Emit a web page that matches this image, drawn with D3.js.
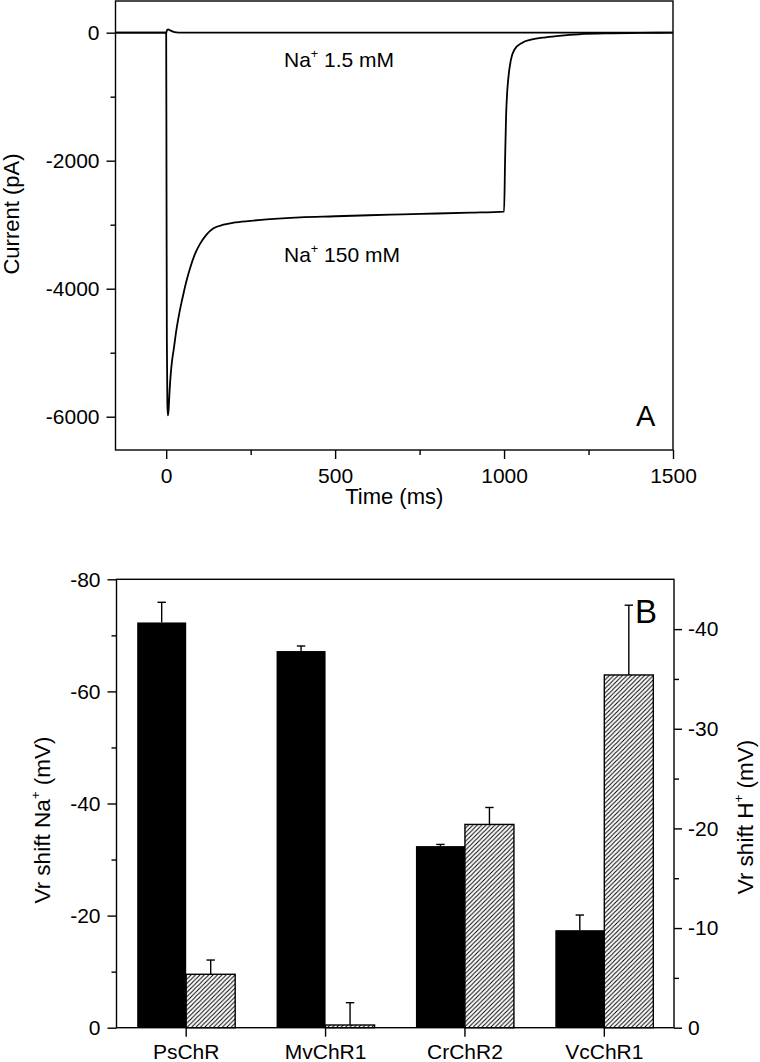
<!DOCTYPE html>
<html><head><meta charset="utf-8">
<script src="https://cdn.jsdelivr.net/npm/d3@7"></script>
<style>
body{margin:0;background:#fff}
svg{display:block}
text{font-family:"Liberation Sans",Arial,Helvetica,sans-serif;fill:#000}
</style>
</head><body>
<svg id="chart" width="760" height="1062"></svg>
<script>
// ---------- Panel A data ----------
const timeTicksMajor = [0, 500, 1000, 1500];
const timeTicksMinor = [250, 750, 1250];
const currentTicksMajor = [0, -2000, -4000, -6000];
const currentTicksMinor = [-1000, -3000, -5000];
// Na+ 150 mM trace: [time ms, current pA]
const trace150 = [
  [-150,0],[-100,0],[-50,0],[0,0],[1,-2500],[2,-4800],[3.5,-5800],[5,-5980],[7,-5900],
  [10,-5600],[14,-5300],[18,-5100],[22,-4960],[30,-4650],[40,-4350],[47,-4177],[60,-3880],
  [72,-3656],[85,-3460],[101,-3291],[120,-3150],[140,-3056],[170,-3000],[199,-2969],
  [250,-2940],[298,-2916],[396,-2884],[500,-2868],[600,-2852],[700,-2838],[800,-2825],
  [900,-2812],[1000,-2795],[1003,-2000],[1006,-1300],[1009,-950],[1013,-690],[1020,-430],
  [1030,-270],[1054,-156],[1080,-110],[1123,-72],[1170,-45],[1221,-25],[1319,-10],
  [1400,-4],[1500,0]
];
// Na+ 1.5 mM trace
const trace15 = [
  [-150,0],[-1,0],[0,0],[3,45],[6,50],[12,35],[20,18],[30,6],[45,0],[1500,0]
];

// ---------- Panel B data ----------
const constructs = ["PsChR", "MvChR1", "CrChR2", "VcChR1"];
const shiftNa = [-72.3, -67.2, -32.4, -17.4];
const shiftNaErr = [3.6, 0.9, 0.3, 2.7];
const shiftH = [-5.36, -0.27, -20.4, -35.4];
const shiftHErr = [1.43, 2.24, 1.7, 7.0];
const naTicksMajor = [0, -20, -40, -60, -80];
const naTicksMinor = [-10, -30, -50, -70];
const hTicksMajor = [0, -10, -20, -30, -40];
const hTicksMinor = [-5, -15, -25, -35];

const svg = d3.select("#chart");
const FS = 21;

function styleAxis(g){
  g.select(".domain").remove();
  g.attr("font-family", null).attr("font-size", null);
  g.selectAll(".tick line").attr("stroke","#000").attr("stroke-width",1.4);
  g.selectAll(".tick text").attr("font-size", FS).attr("fill","#000");
}

function richText(parent, x, y, parts, opts){
  const t = parent.append("text").attr("x", x).attr("y", y)
    .attr("font-size", opts.size).attr("text-anchor", opts.anchor || "start");
  if (opts.rotate) t.attr("transform", `rotate(${opts.rotate},${x},${y})`);
  let prevSup = false;
  parts.forEach(p => {
    const s = t.append("tspan").text(p.t);
    if (p.sup){ s.attr("font-size", opts.size*0.6).attr("dy", -opts.size*0.45); prevSup = true; }
    else if (prevSup){ s.attr("dy", opts.size*0.45); prevSup = false; }
  });
  return t;
}

// ================= Panel A =================
const A = {l:115.5, r:673, t:1, b:450};
const x = d3.scaleLinear().domain([-150,1500]).range([A.l, A.r]);
const y = d3.scaleLinear().domain([-6520,495]).range([A.b, A.t]);
const gA = svg.append("g");

gA.append("g").attr("transform",`translate(0,${A.b})`)
  .call(d3.axisBottom(x).tickValues(timeTicksMajor).tickSize(9).tickPadding(9).tickFormat(d=>String(d)))
  .call(styleAxis);
gA.append("g").attr("transform",`translate(0,${A.b})`)
  .call(d3.axisBottom(x).tickValues(timeTicksMinor).tickSize(5).tickFormat(""))
  .call(styleAxis);
gA.append("g").attr("transform",`translate(${A.l},0)`)
  .call(d3.axisLeft(y).tickValues(currentTicksMajor).tickSize(9).tickPadding(7).tickFormat(d=>String(d)))
  .call(styleAxis);
gA.append("g").attr("transform",`translate(${A.l},0)`)
  .call(d3.axisLeft(y).tickValues(currentTicksMinor).tickSize(5).tickFormat(""))
  .call(styleAxis);

const line = d3.line().x(d=>x(d[0])).y(d=>y(d[1])).curve(d3.curveMonotoneX);
gA.append("path").datum(trace15).attr("d", line).attr("fill","none").attr("stroke","#000").attr("stroke-width",1.8);
gA.append("path").datum(trace150).attr("d", line).attr("fill","none").attr("stroke","#000").attr("stroke-width",1.8);

gA.append("rect").attr("x",A.l).attr("y",A.t).attr("width",A.r-A.l).attr("height",A.b-A.t)
  .attr("fill","none").attr("stroke","#000").attr("stroke-width",1.4);

richText(gA, 284, 67, [{t:"Na"},{t:"+",sup:true},{t:" 1.5 mM"}], {size:FS});
richText(gA, 284, 262, [{t:"Na"},{t:"+",sup:true},{t:" 150 mM"}], {size:FS});
gA.append("text").attr("x",636).attr("y",426).attr("font-size",29).text("A");
gA.append("text").attr("x",(A.l+A.r)/2).attr("y",504).attr("text-anchor","middle").attr("font-size",22).text("Time (ms)");
gA.append("text").attr("transform",`translate(19,214) rotate(-90)`).attr("text-anchor","middle").attr("font-size",22).text("Current (pA)");

// ================= Panel B =================
const B = {l:116.5, r:674, t:579.3, b:1027.7};
const xb = d3.scaleBand().domain(constructs).range([B.l, B.r]).padding(0);
const yL = d3.scaleLinear().domain([0,-80]).range([B.b, B.t]);
const yR = d3.scaleLinear().domain([0,-45]).range([B.b, B.t]);
const BW = 49;
const gB = svg.append("g");

const defs = svg.append("defs");
const HS = 4.4;
const pat = defs.append("pattern").attr("id","hatch").attr("patternUnits","userSpaceOnUse")
  .attr("width",HS).attr("height",HS);
pat.append("rect").attr("width",HS).attr("height",HS).attr("fill","#fff");
pat.append("path").attr("d",`M0,${HS} L${HS},0 M-1,1 L1,-1 M${HS-1},${HS+1} L${HS+1},${HS-1}`)
  .attr("stroke","#000").attr("stroke-width",1.0);

const cx = c => xb(c) + xb.bandwidth()/2;

// black bars (Na+)
gB.selectAll("rect.na").data(constructs).join("rect").attr("class","na")
  .attr("x", c => cx(c) - BW).attr("width", BW)
  .attr("y", (c,i) => yL(shiftNa[i])).attr("height", (c,i) => yL(0) - yL(shiftNa[i]))
  .attr("fill","#000");
// hatched bars (H+)
gB.selectAll("rect.h").data(constructs).join("rect").attr("class","h")
  .attr("x", c => cx(c)).attr("width", BW)
  .attr("y", (c,i) => yR(shiftH[i])).attr("height", (c,i) => yR(0) - yR(shiftH[i]))
  .attr("fill","url(#hatch)").attr("stroke","#000").attr("stroke-width",1.4);

// error bars
function errBars(xf, ys, means, errs){
  const g = gB.append("g");
  constructs.forEach((c,i) => {
    const xc = xf(c), y0 = ys(means[i]), y1 = ys(means[i]-errs[i]);
    g.append("line").attr("x1",xc).attr("x2",xc).attr("y1",y0).attr("y2",y1).attr("stroke","#000").attr("stroke-width",1.4);
    g.append("line").attr("x1",xc-4.2).attr("x2",xc+4.2).attr("y1",y1).attr("y2",y1).attr("stroke","#000").attr("stroke-width",1.4);
  });
}
errBars(c => cx(c) - BW/2, yL, shiftNa, shiftNaErr);
errBars(c => cx(c) + BW/2, yR, shiftH, shiftHErr);

// axes
gB.append("g").attr("transform",`translate(0,${B.b})`)
  .call(d3.axisBottom(xb).tickSize(9).tickPadding(7))
  .call(styleAxis);
gB.append("g").attr("transform",`translate(${B.l},0)`)
  .call(d3.axisLeft(yL).tickValues(naTicksMajor).tickSize(9).tickPadding(7).tickFormat(d=>String(d)))
  .call(styleAxis);
gB.append("g").attr("transform",`translate(${B.l},0)`)
  .call(d3.axisLeft(yL).tickValues(naTicksMinor).tickSize(5).tickFormat(""))
  .call(styleAxis);
gB.append("g").attr("transform",`translate(${B.r},0)`)
  .call(d3.axisRight(yR).tickValues(hTicksMajor).tickSize(8).tickPadding(6).tickFormat(d=>String(d)))
  .call(styleAxis);
gB.append("g").attr("transform",`translate(${B.r},0)`)
  .call(d3.axisRight(yR).tickValues(hTicksMinor).tickSize(5).tickFormat(""))
  .call(styleAxis);

gB.append("rect").attr("x",B.l).attr("y",B.t).attr("width",B.r-B.l).attr("height",B.b-B.t)
  .attr("fill","none").attr("stroke","#000").attr("stroke-width",1.4);

gB.append("text").attr("x",635).attr("y",622.7).attr("font-size",33).text("B");
richText(gB, 50, 820, [{t:"Vr shift Na"},{t:"+",sup:true},{t:" (mV)"}], {size:22.5, anchor:"middle", rotate:-90});
richText(gB, 753, 817, [{t:"Vr shift H"},{t:"+",sup:true},{t:" (mV)"}], {size:22.5, anchor:"middle", rotate:-90});
</script>
</body></html>
